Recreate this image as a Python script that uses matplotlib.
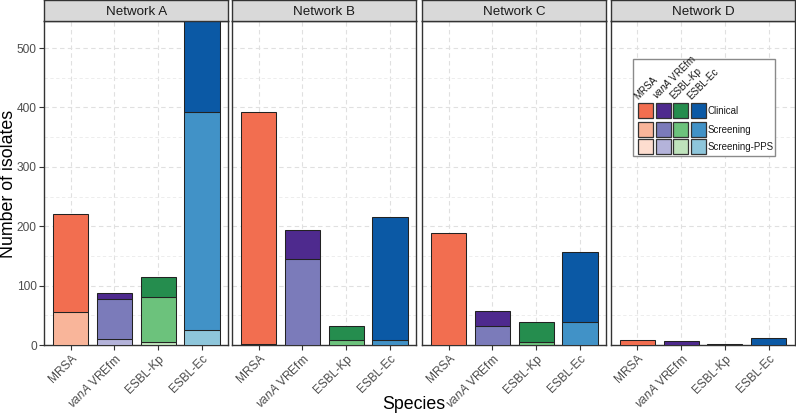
import matplotlib
matplotlib.use("Agg")
import matplotlib.pyplot as plt
from matplotlib.patches import Rectangle
import numpy as np

plt.rcParams['font.family'] = ['Liberation Sans', 'DejaVu Sans']
plt.rcParams['mathtext.fontset'] = 'custom'
plt.rcParams['mathtext.it'] = 'Liberation Sans:italic'
plt.rcParams['mathtext.rm'] = 'Liberation Sans'

networks = ["Network A", "Network B", "Network C", "Network D"]
species = ["MRSA", r"$\mathit{vanA}$ VREfm", "ESBL-Kp", "ESBL-Ec"]
legend_species = ["MRSA", r"$\mathit{vanA}$ VREfm", "ESBL-Kp", "ESBL-Ec"]
sample_types = ["Clinical", "Screening", "Screening-PPS"]

# values per network, order: MRSA, vanA VREfm, ESBL-Kp, ESBL-Ec
clinical = {
    "Network A": [165, 11, 35, 153],
    "Network B": [391, 50, 24, 208],
    "Network C": [188, 25, 34, 118],
    "Network D": [8, 6, 2, 11],
}
screening = {
    "Network A": [55, 67, 75, 366],
    "Network B": [2, 144, 8, 8],
    "Network C": [0, 32, 5, 38],
    "Network D": [0, 0, 0, 0],
}
screening_pps = {
    "Network A": [0, 10, 5, 26],
    "Network B": [0, 0, 0, 0],
    "Network C": [0, 0, 0, 0],
    "Network D": [0, 0, 0, 0],
}

colors = {
    "Clinical":      ["#F26E50", "#4E2A8E", "#258D4E", "#0B59A5"],
    "Screening":     ["#F9B59A", "#7B7BBA", "#6CC27C", "#4192C7"],
    "Screening-PPS": ["#FDDDCF", "#B4B3DA", "#BFE3BC", "#8EC6DB"],
}

W, H = 796, 415
fig = plt.figure(figsize=(W / 100, H / 100), dpi=100)

lefts = [44.3, 232.3, 422.3, 611.0]
pw = 184.0
pbot = 345.0
ptop = 21.3
YMAX = 545

tick_color = "#4D4D4D"
edge = "#222222"

for i, net in enumerate(networks):
    ax = fig.add_axes([lefts[i] / W, 1 - pbot / H, pw / W, (pbot - ptop) / H])
    x = np.arange(len(species)) + 1
    layers = [("Screening-PPS", screening_pps[net]),
              ("Screening", screening[net]),
              ("Clinical", clinical[net])]
    bottom = np.zeros(len(species))
    for name, vals in layers:
        vals = np.array(vals, dtype=float)
        for j in range(len(species)):
            if vals[j] > 0:
                ax.bar(x[j], vals[j], bottom=bottom[j], width=0.8,
                       color=colors[name][j], edgecolor=edge, linewidth=0.75,
                       zorder=3)
        bottom += vals
    ax.set_xlim(0.4, 4.6)
    ax.set_ylim(0, YMAX)
    ax.set_yticks([0, 100, 200, 300, 400, 500])
    ax.set_yticks([50, 150, 250, 350, 450], minor=True)
    ax.set_xticks(x)
    ax.set_xticklabels(species, rotation=45, ha="right", va="top",
                       rotation_mode="anchor", fontsize=8.6, color=tick_color)
    ax.grid(True, which="major", axis="both", color="#E0E0E0",
            linestyle=(0, (4, 3)), linewidth=0.8, zorder=0)
    ax.grid(True, which="minor", axis="y", color="#EAEAEA",
            linestyle=(0, (4, 3)), linewidth=0.6, zorder=0)
    ax.tick_params(axis="x", which="major", length=3.5, color="#333333",
                   pad=2)
    ax.tick_params(axis="y", which="minor", length=0)
    if i == 0:
        ax.tick_params(axis="y", which="major", length=3.5, color="#333333",
                       labelsize=8.6, labelcolor=tick_color, pad=2)
    else:
        ax.tick_params(axis="y", which="major", length=0, labelleft=False)
    for s in ax.spines.values():
        s.set_color("#333333")
        s.set_linewidth(1.0)
    ax.set_axisbelow(True)

    # strip
    sax = fig.add_axes([lefts[i] / W, 1 - ptop / H, pw / W, (ptop - 0.5) / H])
    sax.set_facecolor("#D9D9D9")
    sax.set_xticks([])
    sax.set_yticks([])
    for s in sax.spines.values():
        s.set_color("#333333")
        s.set_linewidth(1.0)
    sax.text(0.5, 0.47, net, ha="center", va="center", fontsize=9.6,
             color="#1A1A1A", transform=sax.transAxes)

fig.text(9 / W, 1 - 184 / H, "Number of isolates", rotation=90,
         ha="center", va="center", fontsize=12.8)
fig.text(414 / W, 1 - 404 / H, "Species", ha="center", va="center",
         fontsize=12.8)

# legend overlay in pixel coordinates
lax = fig.add_axes([0, 0, 1, 1], zorder=10)
lax.set_xlim(0, W)
lax.set_ylim(H, 0)
lax.axis("off")
lax.add_patch(Rectangle((633.3, 59.3), 141.7, 96.7, facecolor="white",
                        edgecolor="#8A8A8A", linewidth=1.0))
col_x = [638.3, 656.0, 673.3, 691.0]
row_y = [103.3, 121.7, 139.3]
sq = 15.0
for r, st in enumerate(sample_types):
    for c in range(4):
        lax.add_patch(Rectangle((col_x[c], row_y[r]), sq, sq,
                                facecolor=colors[st][c], edgecolor="#333333",
                                linewidth=0.9))
    lax.text(708.0, row_y[r] + sq / 2 + 0.5, st, ha="left", va="center",
             fontsize=7.0, color="#1A1A1A")
for c, sp in enumerate(legend_species):
    lax.text(col_x[c] + 1.5, 101.0, sp, rotation=45, ha="left", va="bottom",
             rotation_mode="anchor", fontsize=7.0, color="#1A1A1A")

fig.savefig("out.png", dpi=100)
